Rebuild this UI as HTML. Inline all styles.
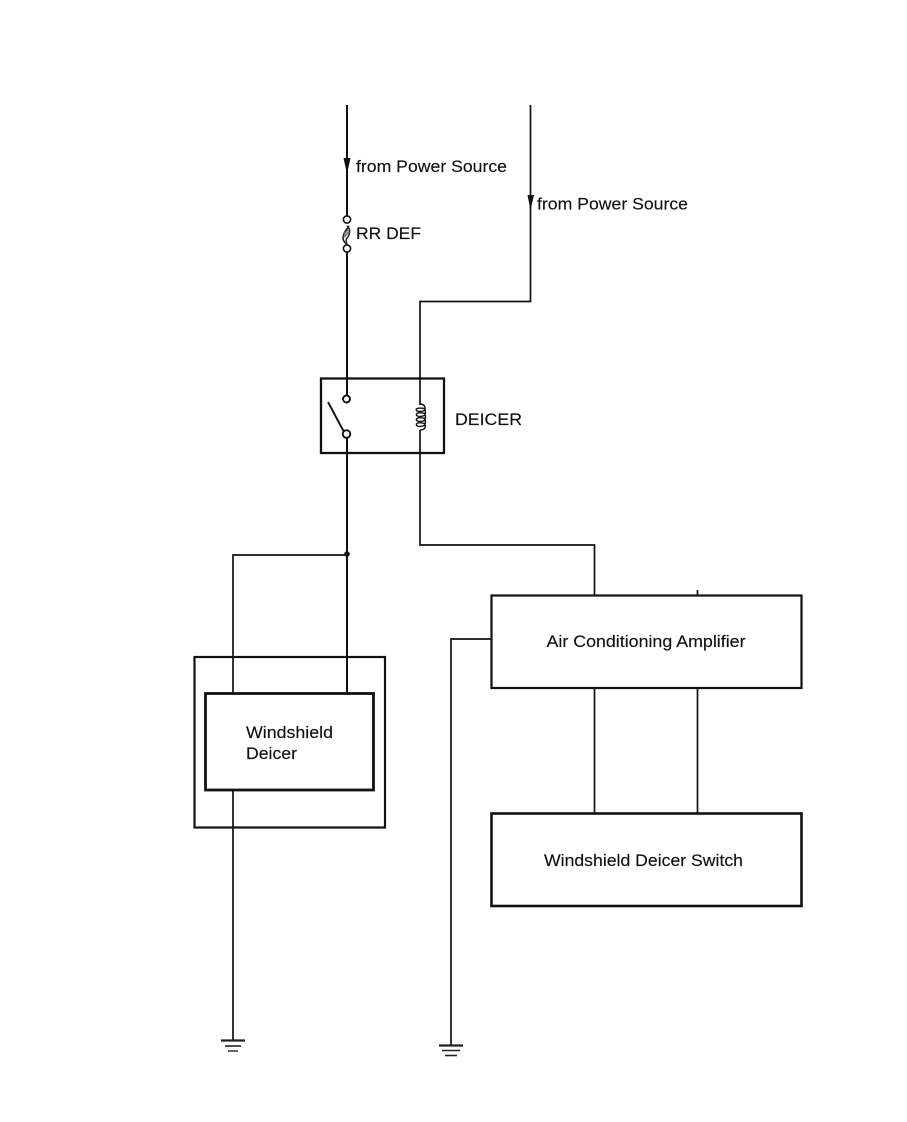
<!DOCTYPE html>
<html>
<head>
<meta charset="utf-8">
<style>
html,body{margin:0;padding:0;background:#fff}
svg{display:block}
text{font-family:"Liberation Sans",sans-serif;font-size:17px;fill:#111;stroke:#111;stroke-width:.15px}
</style>
</head>
<body>
<svg width="907" height="1122" viewBox="0 0 907 1122" xmlns="http://www.w3.org/2000/svg">
<g fill="none" stroke="#111" stroke-width="1.700">
<!-- left supply -->
<path d="M347 105V216M347 252V395" stroke-width="2"/>
<!-- right supply to coil -->
<path d="M530.500 105V301.500H420V405M420 430V545H594.500V595"/>
<!-- deicer outputs -->
<path d="M347 438V693" stroke-width="2"/>
<path d="M347 555H233V693"/>
<path d="M233 790V1040"/>
<!-- amp to switch -->
<path d="M594.500 688V813M697.500 688V813M697.500 590V595"/>
<!-- amp to ground -->
<path d="M491 639H451V1045"/>
</g>
<!-- arrowheads -->
<path d="M343.500 158H350.500L347 174Z" fill="#111"/>
<path d="M527.500 195H534L530.500 210Z" fill="#111"/>
<circle cx="347" cy="554" r="2.800" fill="#111"/>
<!-- fuse -->
<g fill="#fff" stroke="#111" stroke-width="1.600">
<path d="M349 226C347 229 343 233 343 238C343 242 346 243 347 245" fill="none" stroke="#222"/>
<path d="M347 226C351 229 350 235 347 238C345 240 347 243 347 245" fill="none" stroke="#333"/>
<path d="M344.500 233.500L348.500 229.500M344 237L349 232" fill="none" stroke="#777" stroke-width="1.800"/>
<circle cx="347" cy="219.500" r="3.600"/>
<circle cx="347" cy="248.500" r="3.600"/>
</g>
<!-- relay -->
<rect x="321" y="378.500" width="123" height="74.500" fill="none" stroke="#111" stroke-width="2.300"/>
<g fill="none" stroke="#111" stroke-width="1.900">
<path d="M347 378V395M347 438V453"/>
<path d="M328 402L344 432"/>
<circle cx="346.500" cy="399" r="3.500" fill="#fff"/>
<circle cx="346.500" cy="434" r="3.800" fill="#fff"/>
</g>
<!-- coil -->
<g fill="none" stroke="#111" stroke-width="1.400">
<path d="M420 404C424 404 425.500 407 425 409C424.500 412 418 412 416.500 410.500C415 408.500 418 407.500 424.500 408.500"/>
<path d="M425 409.500C426 412 425.500 415.500 423 416C419 417 415.500 416 416.500 414C417.500 412.500 421 412.500 425 413.500"/>
<path d="M425 414.500C426 417 425.500 420.500 423 421C419 422 415.500 421 416.500 419C417.500 417.500 421 417.500 425 418.500"/>
<path d="M425 419.500C426 423 425 425.500 423 426C419 427 415.500 426 416.500 424C417.500 422.500 421 422.500 425 423.500"/>
<path d="M425 424.500C426 428 424 430 420 430"/>
</g>
<!-- boxes -->
<rect x="194.500" y="657" width="190.500" height="170.500" fill="none" stroke="#111" stroke-width="2.200"/>
<rect x="205.500" y="693.500" width="168" height="96.500" fill="none" stroke="#111" stroke-width="2.800"/>
<rect x="491.500" y="595.500" width="310" height="92.500" fill="none" stroke="#111" stroke-width="2.200"/>
<rect x="491.500" y="813.500" width="310" height="92.500" fill="none" stroke="#111" stroke-width="2.600"/>
<!-- grounds -->
<g stroke="#222" fill="none">
<path d="M221 1040.500H245" stroke-width="2.200"/>
<path d="M225 1046H241" stroke-width="1.600"/>
<path d="M228 1051H238" stroke-width="2" stroke="#666"/>
<path d="M439 1045.500H463" stroke-width="2.200"/>
<path d="M442 1050.500H460" stroke-width="1.600"/>
<path d="M445 1055.500H457" stroke-width="1.600"/>
</g>
<!-- labels -->
<text x="356" y="172" textLength="151" lengthAdjust="spacingAndGlyphs">from Power Source</text>
<text x="537" y="209.500" textLength="151" lengthAdjust="spacingAndGlyphs">from Power Source</text>
<text x="356" y="239" textLength="65" lengthAdjust="spacingAndGlyphs">RR DEF</text>
<text x="455" y="425" textLength="67" lengthAdjust="spacingAndGlyphs">DEICER</text>
<text x="546.500" y="647" textLength="199" lengthAdjust="spacingAndGlyphs">Air Conditioning Amplifier</text>
<text x="544" y="866" textLength="199" lengthAdjust="spacingAndGlyphs">Windshield Deicer Switch</text>
<text x="246" y="738" textLength="87" lengthAdjust="spacingAndGlyphs">Windshield</text>
<text x="246" y="759" textLength="51" lengthAdjust="spacingAndGlyphs">Deicer</text>
</svg>
</body>
</html>
